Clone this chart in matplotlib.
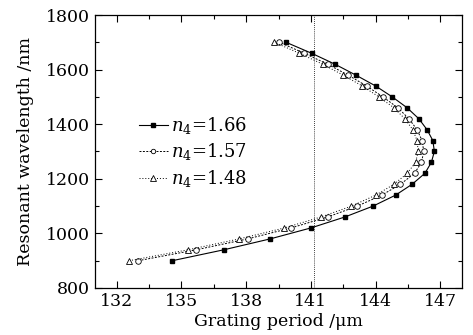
import matplotlib
matplotlib.use("Agg")
from matplotlib import pyplot as plt
from matplotlib.ticker import MultipleLocator

wavelength = [900, 940, 980, 1020, 1060, 1100, 1140, 1180, 1220, 1260, 1300,
              1340, 1380, 1420, 1460, 1500, 1540, 1580, 1620, 1660, 1700]

period_166 = [134.58, 136.97, 139.12, 141.0, 142.57, 143.88, 144.92, 145.69,
              146.28, 146.58, 146.72, 146.65, 146.38, 146.0, 145.46, 144.77,
              144.0, 143.08, 142.11, 141.03, 139.85]
period_157 = [133.0, 135.69, 138.08, 140.08, 141.77, 143.15, 144.28, 145.15,
              145.8, 146.12, 146.23, 146.15, 145.92, 145.54, 145.03, 144.34,
              143.58, 142.72, 141.77, 140.69, 139.54]
period_148 = [132.58, 135.31, 137.69, 139.77, 141.46, 142.88, 144.0, 144.85,
              145.46, 145.85, 145.97, 145.92, 145.72, 145.35, 144.85, 144.15,
              143.38, 142.49, 141.54, 140.46, 139.31]

labels = [r"$n_4$=1.66", r"$n_4$=1.57", r"$n_4$=1.48"]
marker_line = 141.15

plt.rcParams["font.family"] = "DejaVu Serif"
plt.rcParams["mathtext.fontset"] = "dejavuserif"

fig = plt.figure(figsize=(4.73, 3.35), dpi=100)
ax = fig.add_axes([95 / 473, 1 - 288 / 335, 367 / 473, 273 / 335])

ax.plot(period_166, wavelength, "-", color="black", lw=0.8, marker="s",
        ms=3.2, mfc="black", label=labels[0])
ax.plot(period_157, wavelength, color="black", lw=0.7, ls=(0, (2, 1.5)),
        marker="o", ms=4, mfc="white", mew=0.6, label=labels[1])
ax.plot(period_148, wavelength, color="black", lw=0.7, ls=(0, (1, 2)),
        marker="^", ms=4.8, mfc="white", mew=0.6, label=labels[2])
ax.axvline(marker_line, color="black", lw=0.6, ls=(0, (1, 1.5)))

ax.set_xlim(131, 148)
ax.set_ylim(800, 1800)
ax.xaxis.set_major_locator(MultipleLocator(3))
ax.xaxis.set_minor_locator(MultipleLocator(1.5))
ax.yaxis.set_major_locator(MultipleLocator(200))
ax.yaxis.set_minor_locator(MultipleLocator(100))
ax.tick_params(which="both", direction="in", top=True, right=True,
               labelsize=12.5, width=0.8)
ax.tick_params(which="major", length=5)
ax.tick_params(which="minor", length=3)
for s in ax.spines.values():
    s.set_linewidth(0.9)

ax.set_xlabel("Grating period /μm", fontsize=12.5, labelpad=2)
ax.set_ylabel("Resonant wavelength /nm", fontsize=12.5, labelpad=9)

ax.legend(loc="upper left", bbox_to_anchor=(0.1, 0.66), frameon=False,
          fontsize=13, handlelength=1.6, handletextpad=0.2, labelspacing=0.3,
          borderaxespad=0, markerscale=0.8)

fig.savefig("out.png", dpi=100)
